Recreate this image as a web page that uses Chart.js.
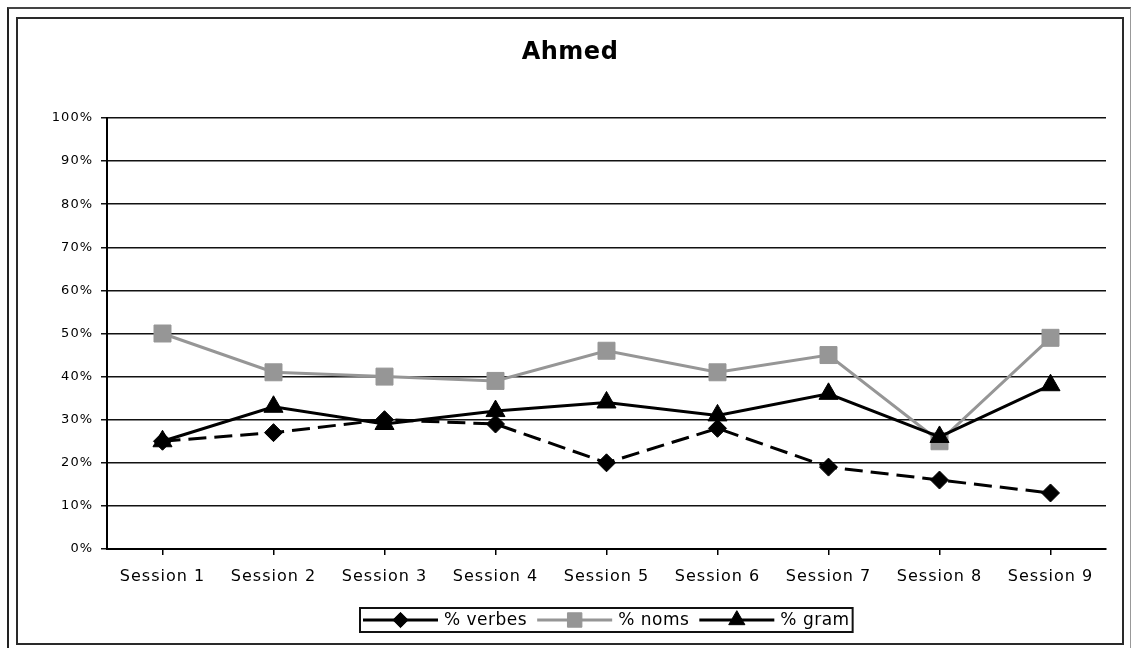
<!DOCTYPE html>
<html>
<head>
<meta charset="utf-8">
<script src="https://cdn.jsdelivr.net/npm/chart.js@4.4.1/dist/chart.umd.min.js"></script>
<style>
  html, body { margin: 0; padding: 0; background: #fff; }
  body { width: 1131px; height: 648px; position: relative; overflow: hidden; }
  .outer {
    position: absolute; left: 7px; top: 7px; width: 1121px; height: 700px;
    border-left: 2px solid #222; border-top: 2px solid #444; border-right: 1px solid #999;
  }
  .frame {
    position: absolute; left: 16px; top: 17px; width: 1104px; height: 624px;
    border: 2px solid #2a2a2a;
  }
  #chart { display: block; }
</style>
</head>
<body>
<div class="outer"></div>
<div class="frame">
  <canvas id="chart" width="1104" height="624"></canvas>
</div>
<script>
const title = "Ahmed";
const sessions = ["Session 1", "Session 2", "Session 3", "Session 4", "Session 5",
                  "Session 6", "Session 7", "Session 8", "Session 9"];
const verbes = [25, 27, 30, 29, 20, 28, 19, 16, 13];
const noms = [50, 41, 40, 39, 46, 41, 45, 25, 49];
const gram = [25, 33, 29, 32, 34, 31, 36, 26, 38];
const seriesNames = ["% verbes", "% noms", "% gram"];

const FONT = "'DejaVu Sans', Verdana, sans-serif";
const SPACING = "1px";

// wide Verdana-looking text
const letterSpacing = {
  id: "letterSpacing",
  beforeLayout(chart) { chart.ctx.letterSpacing = SPACING; },
  beforeDraw(chart) { chart.ctx.letterSpacing = SPACING; }
};

function drawMarker(ctx, style, x, y, r) {
  Chart.helpers.drawPoint(ctx, { pointStyle: style, radius: r, borderWidth: 1 }, x, y);
}

// title + boxed legend with line samples, like the Excel original
const decorations = {
  id: "decorations",
  afterDraw(chart) {
    const ctx = chart.ctx;
    const area = chart.chartArea;
    ctx.save();
    ctx.fillStyle = "#000";
    ctx.letterSpacing = "0.5px";
    ctx.font = "bold 24px " + FONT;
    ctx.textAlign = "center";
    ctx.textBaseline = "middle";
    ctx.fillText(title, chart.width / 2, 34);

    ctx.font = "17px " + FONT;
    const lineLen = 75, gapText = 6, gapItem = 10, pad = 3;
    const items = chart.data.datasets.map((ds) => ({ ds, w: ctx.measureText(ds.label).width }));
    let total = pad * 2;
    items.forEach((it, i) => { total += lineLen + gapText + it.w + (i < items.length - 1 ? gapItem : 0); });
    const cx = (area.left + area.right) / 2;
    const boxTop = 589, boxH = 24;
    let x = Math.round(cx - total / 2);
    ctx.lineWidth = 2;
    ctx.strokeStyle = "#111";
    ctx.strokeRect(x, boxTop, total, boxH);
    const my = boxTop + boxH / 2;
    x += pad;
    items.forEach((it) => {
      const ds = it.ds;
      ctx.strokeStyle = ds.borderColor;
      ctx.fillStyle = ds.backgroundColor;
      ctx.lineWidth = 3;
      ctx.setLineDash([]);
      ctx.beginPath();
      ctx.moveTo(x, my);
      ctx.lineTo(x + lineLen, my);
      ctx.stroke();
      ctx.lineWidth = 1;
      drawMarker(ctx, ds.pointStyle, x + lineLen / 2, my, ds.pointRadius * 0.85);
      ctx.fillStyle = "#000";
      ctx.textAlign = "left";
      ctx.fillText(ds.label, x + lineLen + gapText, my + 1);
      x += lineLen + gapText + it.w + gapItem;
    });
    ctx.restore();
  }
};

const ctx = document.getElementById("chart").getContext("2d");
new Chart(ctx, {
  type: "line",
  data: {
    labels: sessions,
    datasets: [
      {
        label: seriesNames[0], data: verbes,
        borderColor: "#000", backgroundColor: "#000", borderWidth: 3,
        borderDash: [18, 8], pointStyle: "rectRot", pointRadius: 9,
        pointBorderWidth: 1, order: 3
      },
      {
        label: seriesNames[1], data: noms,
        borderColor: "#969696", backgroundColor: "#969696", borderWidth: 3,
        pointStyle: "rect", pointRadius: 12, pointBorderWidth: 1, order: 2
      },
      {
        label: seriesNames[2], data: gram,
        borderColor: "#000", backgroundColor: "#000", borderWidth: 3,
        pointStyle: "triangle", pointRadius: 11, pointBorderWidth: 1, order: 1
      }
    ]
  },
  options: {
    responsive: false,
    animation: false,
    events: [],
    layout: { padding: { top: 99, right: 16, bottom: 0, left: 0 } },
    plugins: {
      legend: { display: false },
      title: { display: false },
      tooltip: { enabled: false }
    },
    scales: {
      x: {
        offset: true,
        afterFit(scale) { scale.height = 94; },
        grid: { drawOnChartArea: false, drawTicks: true, tickLength: 6, color: "#000", lineWidth: 1.5 },
        border: { display: true, color: "#000", width: 2 },
        ticks: {
          color: "#000", font: { family: FONT, size: 16 }, padding: 12,
          maxRotation: 0, autoSkip: false
        }
      },
      y: {
        min: 0, max: 100,
        afterFit(scale) { scale.width = 89; },
        grid: { color: "#111", lineWidth: 1.5, tickLength: 6 },
        border: { display: true, color: "#000", width: 2 },
        ticks: {
          stepSize: 10, color: "#000", font: { family: FONT, size: 13 }, padding: 8,
          callback: (v) => v + "%"
        }
      }
    }
  },
  plugins: [letterSpacing, decorations]
});
</script>
</body>
</html>
